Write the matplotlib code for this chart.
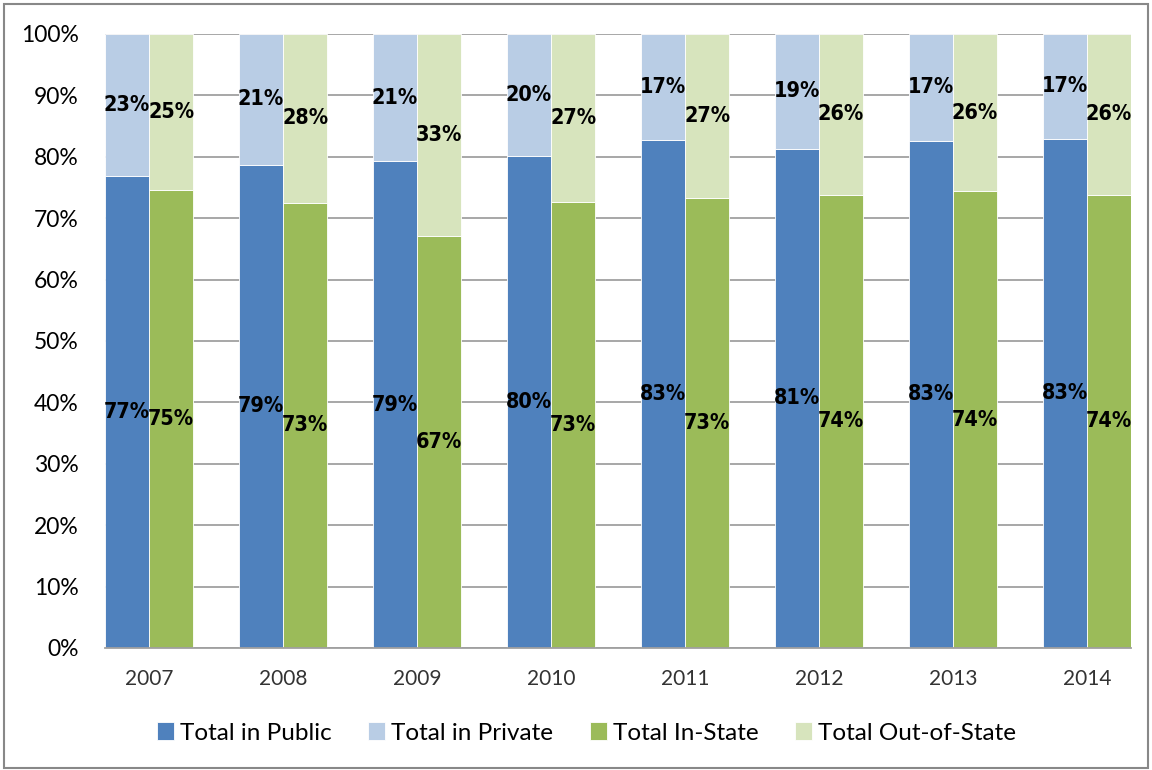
import matplotlib
matplotlib.use('Agg')
import matplotlib.pyplot as plt
from matplotlib.patches import Rectangle
from matplotlib import font_manager
import numpy as np

# Colours (Excel 2007 palette)
BLUE = '#4F81BD'
LIGHT_BLUE = '#B9CDE5'
GREEN = '#9BBB59'
LIGHT_GREEN = '#D7E4BD'

# Data (percent)
years = ['2007', '2008', '2009', '2010', '2011', '2012', '2013', '2014']
public = [76.8, 78.7, 79.3, 80.1, 82.7, 81.3, 82.6, 82.9]
private = [23.2, 21.3, 20.7, 19.9, 17.3, 18.7, 17.4, 17.1]
in_state = [74.6, 72.5, 67.1, 72.6, 73.3, 73.8, 74.4, 73.8]
out_state = [25.4, 27.5, 32.9, 27.4, 26.7, 26.2, 25.6, 26.2]

names = {f.name for f in font_manager.fontManager.ttflist}
tick_font = 'Lato' if 'Lato' in names else 'DejaVu Sans'

fig = plt.figure(figsize=(11.52, 7.70), dpi=100)
ax = fig.add_axes([105 / 1152, 1 - 648 / 770, (1131 - 105) / 1152, (648 - 34) / 770])

x = np.arange(len(years))
w = 0.33

b1 = ax.bar(x - w / 2, public, w, color=BLUE, edgecolor='white', linewidth=0.6, label='Total in Public', zorder=2)
b2 = ax.bar(x - w / 2, private, w, bottom=public, color=LIGHT_BLUE, edgecolor='white', linewidth=0.6,
            label='Total in Private', zorder=2)
b3 = ax.bar(x + w / 2, in_state, w, color=GREEN, edgecolor='white', linewidth=0.6, label='Total In-State', zorder=2)
b4 = ax.bar(x + w / 2, out_state, w, bottom=in_state, color=LIGHT_GREEN, edgecolor='white', linewidth=0.6,
            label='Total Out-of-State', zorder=2)


def pct(v):
    return f'{int(np.floor(v + 0.5))}%'


# value labels at segment centres
for i in range(len(years)):
    for xx, bottom, h in [(x[i] - w / 2, 0, public[i]), (x[i] - w / 2, public[i], private[i]),
                          (x[i] + w / 2, 0, in_state[i]), (x[i] + w / 2, in_state[i], out_state[i])]:
        ax.text(xx, bottom + h / 2, pct(h), ha='center', va='center', fontsize=15.5,
                fontweight='bold', family='DejaVu Sans', fontstretch='condensed', color='black', zorder=3)

ax.set_xlim(x[0] - w, x[-1] + w)
ax.set_ylim(0, 100)
ax.set_yticks(np.arange(0, 101, 10))
ax.set_yticklabels([f'{v}%' for v in range(0, 101, 10)], fontsize=16.5, family=tick_font)
ax.set_xticks(x)
ax.set_xticklabels(years, fontsize=15, family=tick_font, color='#333333')
ax.tick_params(axis='both', length=0)
ax.tick_params(axis='y', pad=19)
ax.tick_params(axis='x', pad=15)
ax.grid(axis='y', color='#A0A0A0', linewidth=1.3, zorder=0)
ax.set_axisbelow(True)
for s in ['left', 'right', 'top']:
    ax.spines[s].set_visible(False)
ax.spines['bottom'].set_color('#A0A0A0')
ax.spines['bottom'].set_linewidth(1.3)

fig.legend(handles=[b1, b2, b3, b4], loc='center', bbox_to_anchor=(0.509, 1 - 733 / 770), ncol=4,
           frameon=False, prop={'family': tick_font, 'size': 17.5}, handlelength=0.7, handleheight=0.7,
           handletextpad=0.25, columnspacing=1.5)

fig.patches.append(Rectangle((4 / 1152, 2 / 770), 1144 / 1152, 764 / 770, transform=fig.transFigure,
                             fill=False, edgecolor='#888888', linewidth=1.5))

fig.savefig('out.png', dpi=100)
